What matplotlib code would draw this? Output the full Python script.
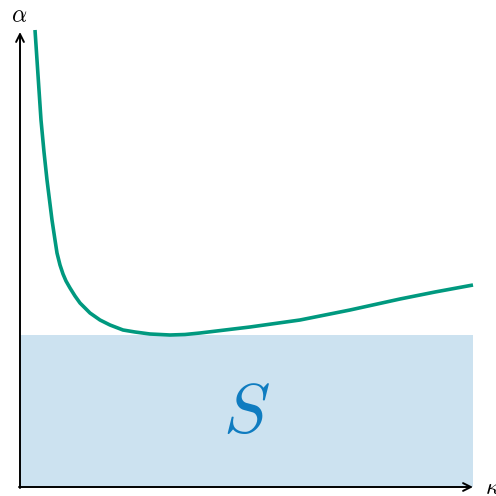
import matplotlib.pyplot as plt
from matplotlib.patches import Rectangle

plt.rcParams['mathtext.fontset'] = 'cm'

# curve alpha(kappa)
kappa = [15, 18, 21, 24, 27, 30, 32, 35, 37, 40, 43, 46, 50, 55, 60, 65, 70, 80, 90, 103, 115, 130,
         150, 165, 180, 205, 230, 255, 280, 305, 330, 355, 380, 415, 453]
alpha = [457, 412, 367, 335, 307, 283, 267, 247, 234, 222, 213, 206, 199, 191, 184, 179, 174, 167, 162, 157, 155, 153,
         152, 152.5, 154, 157, 160, 163.5, 167, 172, 177, 182.5, 188, 195, 202]

# stable region S
s_kappa = [0, 453]
s_alpha = [0, 152]

fig = plt.figure(figsize=(4.96, 4.96), dpi=100)
ax = fig.add_axes([0, 0, 1, 1])
ax.set_xlim(-20, 476)
ax.set_ylim(-9, 487)
ax.axis('off')

ax.add_patch(Rectangle((s_kappa[0], s_alpha[0]), s_kappa[1] - s_kappa[0], s_alpha[1] - s_alpha[0],
                       facecolor='#cce2f0', edgecolor='none', zorder=1))
ax.text(226, 75, r'$S$', fontsize=50, color='#0f7cc0', ha='center', va='center', zorder=2)

ax.plot(kappa, alpha, color='#00997f', lw=2.6, solid_capstyle='butt', solid_joinstyle='round', zorder=3)

# axes with arrows
arrow = dict(arrowstyle='->', lw=1.4, color='black', mutation_scale=14, shrinkA=0, shrinkB=0)
ax.annotate('', xy=(0, 455), xytext=(0, -1), arrowprops=arrow, zorder=4)
ax.annotate('', xy=(453, 0), xytext=(-1, 0), arrowprops=arrow, zorder=4)
ax.text(-1, 472, r'$\alpha$', fontsize=17, ha='center', va='center')
ax.text(465, 0, r'$\kappa$', fontsize=17, ha='left', va='center')

fig.savefig('out.png', dpi=100)
